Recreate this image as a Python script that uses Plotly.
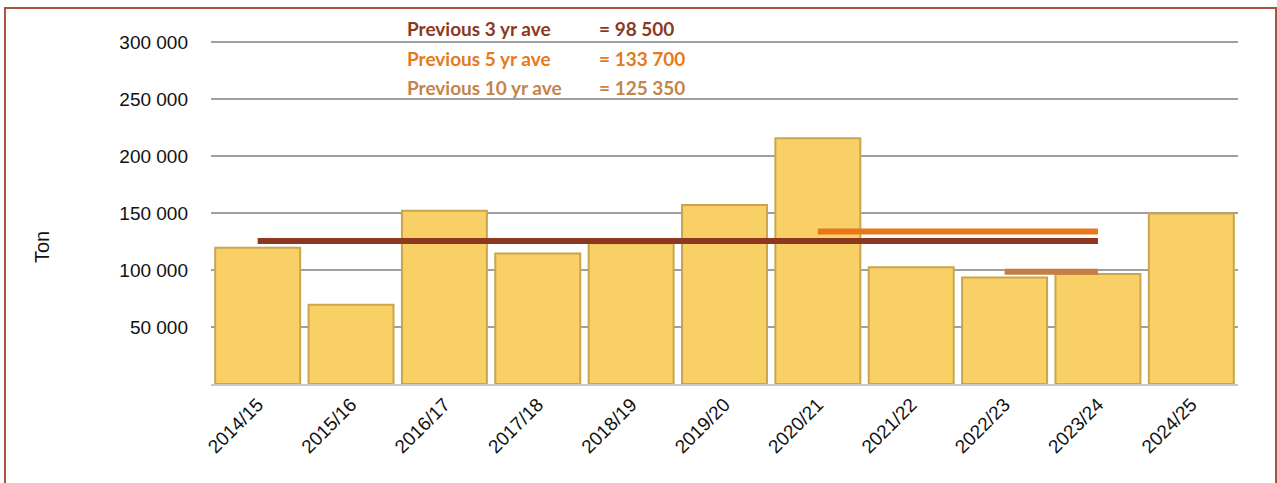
import plotly.graph_objects as go

seasons = ["2014/15", "2015/16", "2016/17", "2017/18", "2018/19", "2019/20",
           "2020/21", "2021/22", "2022/23", "2023/24", "2024/25"]
tons = [119500, 69500, 152000, 114500, 123500, 157000, 215500, 102500, 93500, 96500, 149500]

ave_names = ["Previous 3 yr ave", "Previous 5 yr ave", "Previous 10 yr ave"]
ave_texts = ["= 98 500", "= 133 700", "= 125 350"]
ave_colors = ["#8B3A22", "#E57A1C", "#C4844A"]

# average lines as drawn in the picture
line_levels = [125350, 133700, 98500]
line_start = ["2014/15", "2020/21", "2022/23"]
line_end = ["2023/24", "2023/24", "2023/24"]
line_colors = ["#8E3720", "#E8761A", "#C47E45"]

ytick_vals = [50000, 100000, 150000, 200000, 250000, 300000]
ytick_text = ["50 000", "100 000", "150 000", "200 000", "250 000", "300 000"]

fig = go.Figure()
fig.add_trace(go.Bar(
    x=seasons, y=tons,
    marker=dict(color="#F8D066", line=dict(color="#C9A64E", width=2)),
    hoverinfo="x+y", showlegend=False,
))
for lv, s, e, c in zip(line_levels, line_start, line_end, line_colors):
    fig.add_trace(go.Scatter(
        x=[s, e], y=[lv, lv], mode="lines",
        line=dict(color=c, width=6), showlegend=False,
    ))

L, R, T, B = 211, 39, 42, 99
W, H = 1277, 483
pw, ph = W - L - R, H - T - B
EXTRA = 10  # plot area extends a little above the 300 000 gridline
YMAX = 300000 * (ph + EXTRA) / ph

def px(x):
    return (x - L) / pw

def py(y):
    return (H - B - y) / (ph + EXTRA)

annots = []
for i, (n, t, c) in enumerate(zip(ave_names, ave_texts, ave_colors)):
    yy = py(29 + 29 * i)
    annots.append(dict(x=px(405), y=yy, xref="paper", yref="paper", text=n,
                       showarrow=False, xanchor="left", yanchor="middle",
                       font=dict(family="Lato", size=19, color=c, weight="bold")))
    annots.append(dict(x=px(597), y=yy, xref="paper", yref="paper", text=t,
                       showarrow=False, xanchor="left", yanchor="middle",
                       font=dict(family="Lato", size=19, color=c, weight="bold")))
annots.append(dict(x=px(42), y=py(247), xref="paper", yref="paper", text="Ton",
                   showarrow=False, textangle=-90, xanchor="center", yanchor="middle",
                   font=dict(family="Liberation Sans", size=20, color="#111111")))

fig.update_layout(
    width=W, height=H,
    margin=dict(l=L, r=R, t=T - EXTRA, b=B),
    paper_bgcolor="white", plot_bgcolor="white",
    bargap=0.09,
    font=dict(family="Liberation Sans", size=15, color="#111111"),
    annotations=annots,
    shapes=[dict(type="rect", xref="paper", yref="paper",
                 x0=px(5), x1=px(1276), y0=py(495), y1=py(8),
                 line=dict(color="#A8553F", width=2), layer="above")],
    xaxis=dict(tickangle=-45, showgrid=False, showline=True, linecolor="#C8C8C8",
               linewidth=2, ticks="", tickfont=dict(size=19)),
    yaxis=dict(range=[0, YMAX], tickvals=ytick_vals, ticktext=ytick_text,
               showgrid=True, gridcolor="#A0A0A0", gridwidth=1.5, zeroline=False,
               showline=False, ticklabelstandoff=22, tickfont=dict(size=19)),
)

fig.write_html("out.html", config={"displayModeBar": False},
               post_script="document.body.style.margin='0';")
